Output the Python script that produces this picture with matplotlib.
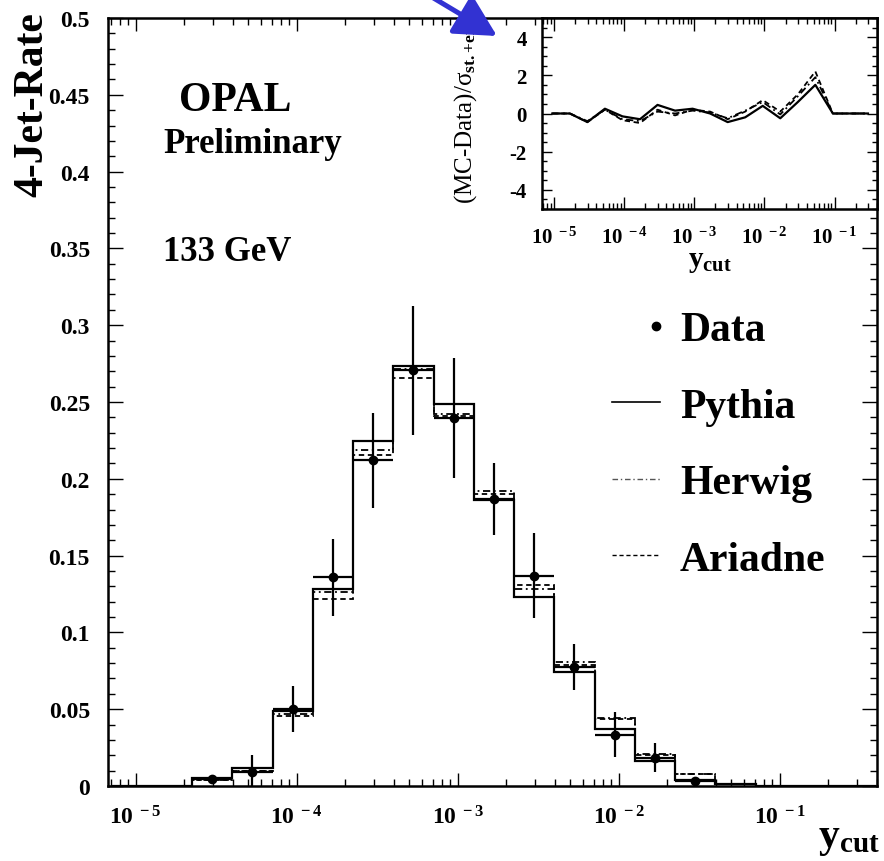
import numpy as np
import matplotlib
matplotlib.use('Agg')
from matplotlib import pyplot as plt
from matplotlib.lines import Line2D
from matplotlib.patches import FancyArrowPatch
from matplotlib.transforms import IdentityTransform
from matplotlib.legend_handler import HandlerBase
from matplotlib.ticker import FixedLocator, LogLocator, MultipleLocator, FuncFormatter, NullFormatter

plt.rcParams['font.family'] = ['Liberation Serif', 'DejaVu Serif']
plt.rcParams['font.weight'] = 'bold'
plt.rcParams['mathtext.fontset'] = 'custom'
plt.rcParams['mathtext.rm'] = 'Liberation Serif'
plt.rcParams['mathtext.it'] = 'Liberation Serif:italic'
plt.rcParams['mathtext.bf'] = 'Liberation Serif:bold'
plt.rcParams['axes.unicode_minus'] = False

# log10 of the y_cut bin edges
log_edges = [-5.15, -4.90, -4.65, -4.40, -4.15, -3.90, -3.65, -3.40, -3.15, -2.90,
             -2.65, -2.40, -2.15, -1.90, -1.65, -1.40, -1.15, -0.90, -0.65, -0.40]

# 4-jet rate per bin
pythia = [0, 0, 0.005, 0.0115, 0.049, 0.128, 0.2246, 0.2736, 0.249, 0.186,
          0.123, 0.074, 0.037, 0.0165, 0.004, 0.001, 0, 0, 0]
herwig = [0, 0, 0.004, 0.010, 0.047, 0.126, 0.2186, 0.2714, 0.2425, 0.192,
          0.128, 0.0806, 0.044, 0.021, 0.0075, 0.0015, 0, 0, 0]
ariadne = [0, 0, 0.004, 0.010, 0.0455, 0.122, 0.2153, 0.2653, 0.241, 0.190,
           0.131, 0.079, 0.0437, 0.020, 0.0078, 0.0015, 0, 0, 0]
nan = np.nan
data_rate = [nan, nan, 0.0045, 0.009, 0.050, 0.136, 0.212, 0.2708, 0.2397, 0.187,
             0.137, 0.0774, 0.0334, 0.0185, 0.0035, nan, nan, nan, nan]
data_err = [nan, nan, 0.002, 0.011, 0.015, 0.025, 0.031, 0.042, 0.039, 0.0235,
            0.0275, 0.015, 0.0147, 0.0095, 0.002, nan, nan, nan, nan]

# (MC-Data)/sigma per bin, inset
dev_pythia = [0, 0, -0.45, 0.25, -0.15, -0.3, 0.45, 0.15, 0.25, 0.0,
              -0.45, -0.2, 0.4, -0.25, 0.6, 1.5, 0, 0, 0]
dev_herwig = [0, 0, -0.4, 0.2, -0.3, -0.4, 0.1, 0.0, 0.15, 0.05,
              -0.25, 0.15, 0.6, -0.05, 0.9, 1.9, 0, 0, 0]
dev_ariadne = [0, 0, -0.45, 0.2, -0.35, -0.5, 0.2, -0.1, 0.2, 0.1,
               -0.3, 0.1, 0.7, 0.1, 1.0, 2.2, 0, 0, 0]

le = np.array(log_edges)
edges = 10 ** le
centers = 10 ** ((le[:-1] + le[1:]) / 2)
xerr = [centers - edges[:-1], edges[1:] - centers]
xlim = (10 ** -5.172, 10 ** -0.396)

dashdot = (0, (4, 2, 1, 2))
dashed = (0, (3, 2))

W, H = 884, 862
fig = plt.figure(figsize=(W / 100, H / 100), dpi=100)


def pow10(v, pos):
    return '10$^{\\mathbf{\\ %d}}$' % int(round(np.log10(v)))


def style_log_x(a, major_len, minor_len, size, pad):
    a.set_xscale('log')
    a.set_xlim(*xlim)
    a.xaxis.set_major_locator(FixedLocator([1e-5, 1e-4, 1e-3, 1e-2, 1e-1]))
    a.xaxis.set_minor_locator(LogLocator(base=10, subs=range(2, 10), numticks=20))
    a.xaxis.set_major_formatter(FuncFormatter(pow10))
    a.xaxis.set_minor_formatter(NullFormatter())
    a.tick_params(axis='x', which='major', length=major_len, labelsize=size, pad=pad)
    a.tick_params(axis='x', which='minor', length=minor_len)
    a.tick_params(which='both', direction='in', top=True, right=True, width=1.0)
    for s in a.spines.values():
        s.set_linewidth(1.8)


class HandlerDot(HandlerBase):
    # dot at the right end of the legend handle box
    def create_artists(self, legend, orig_handle, xdescent, ydescent,
                       width, height, fontsize, trans):
        dot = Line2D([width - xdescent - 3], [height / 2 - ydescent], marker='o',
                     ls='none', color='k', ms=6, transform=trans)
        return [dot]


# main plot
ax = fig.add_axes([108 / W, 75 / H, 769 / W, 768 / H])
ax.stairs(pythia, edges, color='k', lw=1.6, label='Pythia')
ax.stairs(herwig, edges, color='k', lw=1.3, linestyle=dashdot, label='Herwig')
ax.stairs(ariadne, edges, color='k', lw=1.3, linestyle=dashed, label='Ariadne')
ax.errorbar(centers, data_rate, yerr=data_err, xerr=xerr, fmt='o', color='k',
            ms=6, elinewidth=1.6, capsize=0)
ax.set_ylim(0, 0.5)
style_log_x(ax, 9.5, 5, 17, 14)
ax.yaxis.set_major_locator(MultipleLocator(0.05))
ax.yaxis.set_minor_locator(MultipleLocator(0.01))
ax.yaxis.set_major_formatter(FuncFormatter(lambda v, p: '%g' % round(v, 3)))
ax.tick_params(axis='y', which='major', length=10.5, labelsize=17, pad=13)
ax.tick_params(axis='y', which='minor', length=5)

fig.text(32 / W, 1 - 12 / H, '4-Jet-Rate', rotation=90, ha='center', va='top',
         fontsize=30, fontweight='bold')
fig.text(1 - 4 / W, 4 / H, '$\\mathbf{y_{cut}}$', ha='right', va='bottom', fontsize=30)
fig.text(235 / W, 1 - 111 / H, 'OPAL', ha='center', va='baseline', fontsize=30)
fig.text(163 / W, 1 - 153 / H, 'Preliminary', ha='left', va='baseline', fontsize=25)
fig.text(163 / W, 1 - 261 / H, '133 GeV', ha='left', va='baseline', fontsize=25)

data_handle = Line2D([], [], marker='o', ls='none', color='k', ms=6)
handles = [data_handle,
           Line2D([], [], color='k', lw=1.2),
           Line2D([], [], color='#555555', lw=1.0, linestyle=dashdot),
           Line2D([], [], color='k', lw=1.0, linestyle=dashed)]
ax.legend(handles, ['Data', 'Pythia', 'Herwig', 'Ariadne'], loc='upper left',
          bbox_to_anchor=(612 / W, 1 - 312 / H), bbox_transform=fig.transFigure,
          frameon=False, prop={'size': 30, 'weight': 'bold'}, handlelength=1.15,
          handletextpad=0.48, labelspacing=0.92, borderpad=0, borderaxespad=0,
          handler_map={data_handle: HandlerDot()})

# inset: deviations
axin = fig.add_axes([542 / W, 1 - 210 / H, 335 / W, 191 / H])
axin.set_facecolor('white')
axin.plot(centers, dev_pythia, color='k', lw=1.6)
axin.plot(centers, dev_herwig, color='k', lw=1.3, linestyle=dashdot)
axin.plot(centers, dev_ariadne, color='k', lw=1.3, linestyle=dashed)
axin.set_ylim(-5, 5)
style_log_x(axin, 9, 4.5, 15, 13)
axin.yaxis.set_major_locator(FixedLocator([-4, -2, 0, 2, 4]))
axin.yaxis.set_minor_locator(MultipleLocator(0.5))
axin.tick_params(axis='y', which='major', length=7, labelsize=15, pad=11)
axin.tick_params(axis='y', which='minor', length=3.5)
axin.set_xlabel('$\\mathbf{y_{cut}}$', fontsize=21, labelpad=0)
fig.text(468 / W, 1 - 204 / H, '(MC-Data)/σ$_{\\mathrm{st.{+}exp.}}$', rotation=90,
         ha='center', va='bottom', fontsize=18, fontweight='normal', zorder=3)

# blue pointer arrow, drawn over the inset label
arrow = FancyArrowPatch((385, H + 30), (497, H - 37), transform=IdentityTransform(),
                        arrowstyle='-|>,head_length=0.85,head_width=0.45',
                        color='#3232d2', lw=3.6, mutation_scale=30,
                        shrinkA=0, shrinkB=0, zorder=10)
fig.add_artist(arrow)

fig.savefig('out.png', dpi=100)
